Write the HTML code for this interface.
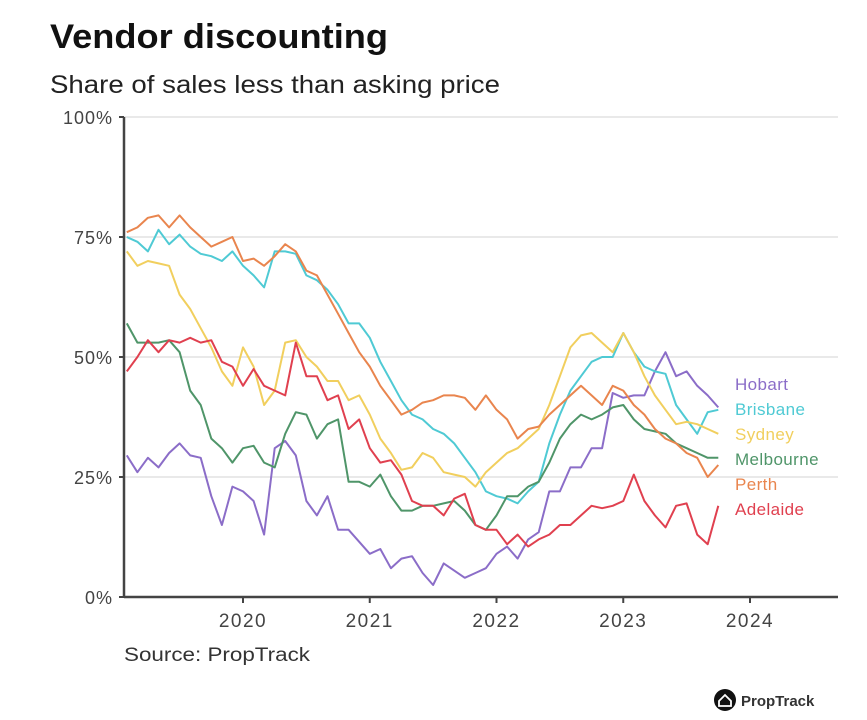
<!DOCTYPE html>
<html><head><meta charset="utf-8">
<style>
body{margin:0;background:#fff;width:867px;height:720px;overflow:hidden;font-family:"Liberation Sans",sans-serif;}
svg{display:block}
</style></head>
<body>
<svg id="chart" width="867" height="720" viewBox="0 0 867 720">
<text x="50" y="48" font-size="34" font-weight="bold" fill="#111" textLength="338" lengthAdjust="spacingAndGlyphs">Vendor discounting</text>
<text x="50" y="93" font-size="25" fill="#222" textLength="450" lengthAdjust="spacingAndGlyphs">Share of sales less than asking price</text>
<g id="grid"></g>
<g id="yaxis"></g>
<g id="xaxis"></g>
<g id="lines"></g>
<g id="legend"></g>
<text x="124" y="661" font-size="19" fill="#333" textLength="186" lengthAdjust="spacingAndGlyphs">Source: PropTrack</text>
<g>
<circle cx="725" cy="700" r="11" fill="#111"/>
<path d="M719 701 L725 695 L731 701 L731 706 L719 706 Z" fill="none" stroke="#fff" stroke-width="1.8"/>
<text x="741" y="706" font-size="15" font-weight="bold" fill="#333">PropTrack</text>
</g>
</svg>
<script>
const yTicks=[0,25,50,75,100];
const yTickLabels=["0%","25%","50%","75%","100%"];
const xTicks=[2020,2021,2022,2023,2024];
const xTickLabels=["2020","2021","2022","2023","2024"];
const seriesNames=["Hobart","Brisbane","Sydney","Melbourne","Perth","Adelaide"];
const startYear=2019+1/12;
const hobart=[29.5,26,29,27,30,32,29.5,29,21,15,23,22,20,13,31,32.5,29.5,20,17,21,14,14,11.5,9,10,6,8,8.5,5,2.5,7,5.5,4,5,6,9,10.5,8,12,13.5,22,22,27,27,31,31,42.5,41.5,42,42,47,51,46,47,44,42,39.5];
const brisbane=[75,74,72,76.5,73.5,75.5,73,71.5,71,70,72,69,67,64.5,72,72,71.5,67,66,64,61,57,57,54,49,45,41,38,37,35,34,32,29,26,22,21,20.5,19.5,22,24,32,38,43,46,49,50,50,55,51,48,47,46.5,40,37,34,38.5,39];
const sydney=[72,69,70,69.5,69,63,60,56,52,47,44,52,48,40,43,53,53.5,50,48,45,45,41,42,38,33,30,26.5,27,30,29,26,25.5,25,23,26,28,30,31,33,35,40,46,52,54.5,55,53,51,55,51,46,42,39,36,36.5,36,35,34];
const melbourne=[57,53,53,53,53.5,51,43,40,33,31,28,31,31.5,28,27,34,38.5,38,33,36,37,24,24,23,25.5,21,18,18,19,19,19.5,20,18,15,14,17,21,21,23,24,28,33,36,38,37,38,39.5,40,37,35,34.5,34,32,31,30,29,29];
const perth=[76,77,79,79.5,77,79.5,77,75,73,74,75,70,70.5,69,71,73.5,72,68,67,63,59,55,51,48,44,41,38,39,40.5,41,42,42,41.5,39,42,39,37,33,35,35.5,38,40,42,44,42,40,44,43,40,38,35,33,32,30,29,25,27.5];
const adelaide=[47,50,53.5,51,53.5,53,54,53,53.5,49,48,44,47.5,44,43,42,53,46,46,41,42,35,37,31,28,28.5,25.5,20,19,19,17,20.5,21.5,15,14,14,11,13,10.5,12,13,15,15,17,19,18.5,19,20,25.5,20,17,14.5,19,19.5,13,11,19];
const seriesData=[hobart,brisbane,sydney,melbourne,perth,adelaide];
const colors=["#8b6dc8","#4fcad4","#f1cf5e","#4f9569","#e9854e","#e0404f"];
const NS="http://www.w3.org/2000/svg";
const X0=124,X1=838,Y0=597,Y1=117;
function xScale(t){return 243+(t-2020)*126.75;}
function yScale(v){return Y0-(v/100)*(Y0-Y1);}
function mk(tag,attrs,parent){const e=document.createElementNS(NS,tag);for(const k in attrs)e.setAttribute(k,attrs[k]);parent.appendChild(e);return e;}
const grid=document.getElementById('grid'),ya=document.getElementById('yaxis'),xa=document.getElementById('xaxis'),lines=document.getElementById('lines'),leg=document.getElementById('legend');
yTicks.forEach((v,i)=>{
  const y=yScale(v);
  if(v>0){const g=mk('line',{x1:X0,x2:X1,y1:y,y2:y,stroke:'#e2e2e2','stroke-width':1.5},grid);
  
  }
  mk('line',{x1:X0-5,x2:X0,y1:y,y2:y,stroke:'#444','stroke-width':2},ya);
  const t=mk('text',{x:X0-11,y:y+7,'text-anchor':'end','font-size':18,'letter-spacing':1,fill:'#444'},ya);
  t.textContent=yTickLabels[i];
  
  
});
mk('line',{x1:X0,x2:X0,y1:Y1,y2:Y0,stroke:'#444','stroke-width':2.5},ya);
mk('line',{x1:X0,x2:X1,y1:Y0,y2:Y0,stroke:'#444','stroke-width':2.5},xa);
xTicks.forEach((t,i)=>{
  const x=xScale(t);
  mk('line',{x1:x,x2:x,y1:Y0,y2:Y0+6,stroke:'#444','stroke-width':2},xa);
  const l=mk('text',{x:x,y:Y0+30,'text-anchor':'middle','font-size':19,'letter-spacing':1.5,fill:'#444'},xa);
  l.textContent=xTickLabels[i];
  
  
});
seriesData.forEach((arr,s)=>{
  const pts=arr.map((v,i)=>xScale(startYear+i/12).toFixed(1)+','+yScale(v).toFixed(1)).join(' ');
  const p=mk('polyline',{points:pts,fill:'none',stroke:colors[s],'stroke-width':2,'stroke-linejoin':'round'},lines);
  
  
  const t=mk('text',{x:735,y:390+s*25,'font-size':17,'letter-spacing':0.4,fill:colors[s]},leg);
  t.textContent=seriesNames[s];
  
  
});
</script>
</body></html>
